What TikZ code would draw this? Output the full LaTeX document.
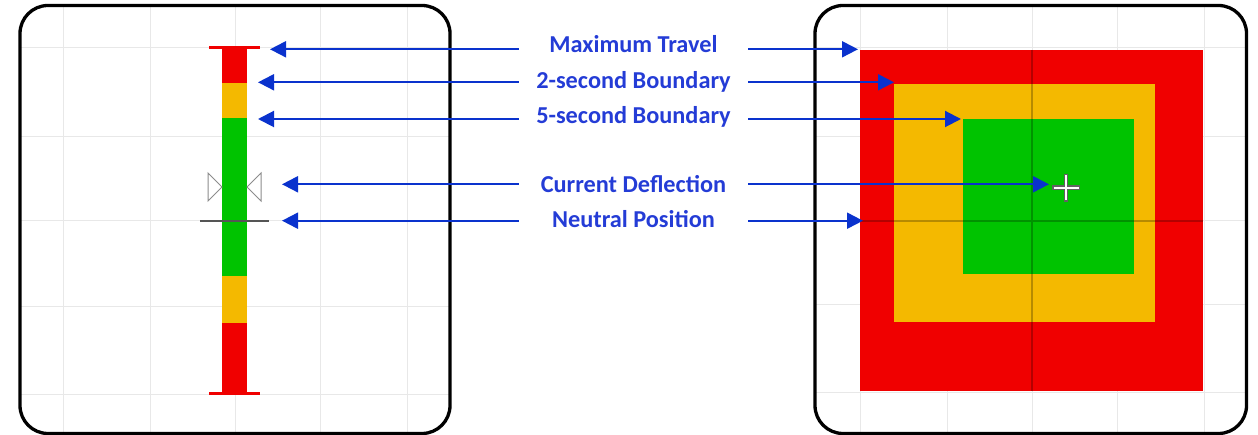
\documentclass[tikz,border=0pt]{standalone}
\usepackage{fontspec}
\setmainfont{Carlito}
\usetikzlibrary{arrows.meta}
\definecolor{cred}{RGB}{240,0,0}
\definecolor{corange}{RGB}{244,185,0}
\definecolor{cgreen}{RGB}{0,195,0}
\definecolor{cgrid}{RGB}{232,232,232}
\definecolor{ctext}{RGB}{36,60,214}
\definecolor{carrow}{RGB}{10,50,205}
\definecolor{cneutral}{RGB}{85,85,85}
\definecolor{ctri}{RGB}{140,140,140}
\begin{document}
\begin{tikzpicture}[x=1pt,y=-1pt,
  lbl/.style={font=\fontsize{24.3}{24.3}\bfseries\selectfont, text=ctext, inner sep=0pt, minimum width=229pt, anchor=base},
  arr/.style={draw=carrow, line width=2pt, -{Triangle[length=16pt,width=16pt]}},
  frame/.style={draw=black, line width=3.3pt, rounded corners=28pt},
  gridline/.style={draw=cgrid, line width=1pt},
  capline/.style={draw=cred, line width=3pt},
  tri/.style={draw=ctri, line width=1pt, fill=white}]
\path[use as bounding box] (0,0) rectangle (1258,435);

% ---------- left panel ----------
\begin{scope}
  \clip[rounded corners=28pt] (20,5.5) rectangle (450,433.5);
  \foreach \x in {63,150,235,320,407} \draw[gridline] (\x,0) -- (\x,440);
  \foreach \y in {48,137,221,307,394} \draw[gridline] (0,\y) -- (460,\y);
\end{scope}
\draw[frame] (20,5.5) rectangle (450,433.5);

\fill[cred] (222,48) rectangle (247,83);
\fill[corange] (222,83) rectangle (247,118);
\fill[cgreen] (222,118) rectangle (247,276);
\fill[corange] (222,276) rectangle (247,323);
\fill[cred] (222,323) rectangle (247,393);
\draw[capline] (209,48) -- (260,48);
\draw[capline] (209,393) -- (260,393);
\draw[draw=cneutral, line width=2.5pt] (200,221) -- (269,221);
\draw[tri] (208,173) -- (222,187) -- (208,201) -- cycle;
\draw[tri] (261,173) -- (247,187) -- (261,201) -- cycle;

% ---------- right panel ----------
\begin{scope}
  \clip[rounded corners=28pt] (815,5.5) rectangle (1246.5,433.5);
  \foreach \x in {860,947,1032,1117,1204} \draw[gridline] (\x,0) -- (\x,440);
  \foreach \y in {48,137,221,305,392} \draw[gridline] (800,\y) -- (1258,\y);
\end{scope}
\fill[cred] (860,50) rectangle (1203,391);
\fill[corange] (894,84) rectangle (1155,322);
\fill[cgreen] (963,119) rectangle (1134,274);
\draw[black, opacity=0.25, line width=1.5pt] (1032,50) -- (1032,391) (860,221) -- (1203,221);
\draw[draw=ctri!70!black, line width=4.5pt] (1052,187.7) -- (1080,187.7) (1066,173.7) -- (1066,201.7);
\draw[white, line width=2.2pt] (1053.5,187.7) -- (1078.5,187.7) (1066,175.2) -- (1066,200.2);
\draw[frame] (815,5.5) rectangle (1246.5,433.5);

% ---------- targets ----------
\coordinate (L1) at (270,49.3);
\coordinate (L2) at (258,82.3);
\coordinate (L3) at (258,119);
\coordinate (L4) at (282,184.3);
\coordinate (L5) at (282,220.7);
\coordinate (R1) at (858,49.3);
\coordinate (R2) at (894,82.3);
\coordinate (R3) at (961,119);
\coordinate (R4) at (1049,184.3);
\coordinate (R5) at (863,220.7);

% ---------- labels ----------
\node[lbl] (t1) at (633.5,52.3) {Maximum Travel};
\node[lbl] (t2) at (633.5,88.3) {2-second Boundary};
\node[lbl] (t3) at (633.5,124) {5-second Boundary};
\node[lbl] (t4) at (633.5,192.3) {Current Deflection};
\node[lbl] (t5) at (633.5,227.3) {Neutral Position};

\foreach \i in {1,...,5} {
  \draw[arr] (t\i.west |- L\i) -- (L\i);
  \draw[arr] (t\i.east |- R\i) -- (R\i);
}
\end{tikzpicture}
\end{document}
